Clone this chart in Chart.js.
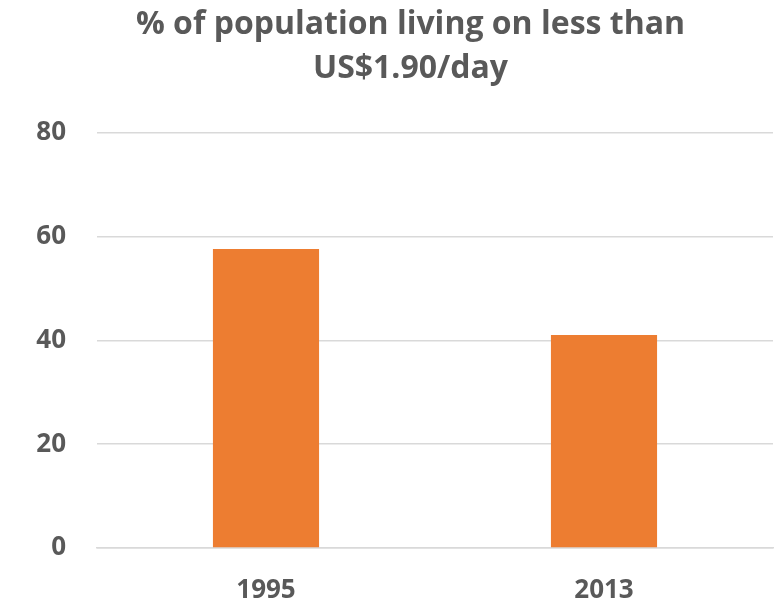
<!DOCTYPE html>
<html>
<head>
<meta charset="utf-8">
<script src="https://cdn.jsdelivr.net/npm/chart.js@4/dist/chart.umd.min.js"></script>
<style>
  html, body { margin: 0; padding: 0; background: #fff; }
  #wrap { width: 781px; height: 603px; }
</style>
</head>
<body>
<div id="wrap"><canvas id="poverty"></canvas></div>
<script>
const years = ["1995", "2013"];
const povertyShare = [57.6, 41.0];
const yTicks = [0, 20, 40, 60, 80];

const textColor = "#595959";
const fontFamily = "'Open Sans', sans-serif";

// the title sits a little right of the canvas centre in the original
const titleShift = {
  id: "titleShift",
  afterLayout(chart) {
    if (chart.titleBlock) {
      chart.titleBlock.left += 9;
      chart.titleBlock.right += 9;
    }
  },
};

const configPoverty = {
  type: "bar",
  data: {
    labels: years,
    datasets: [
      {
        label: "% of population",
        data: povertyShare,
        backgroundColor: "#ED7D31",
        borderWidth: 0,
        categoryPercentage: 1,
        barPercentage: 0.314,
      },
    ],
  },
  options: {
    responsive: true,
    maintainAspectRatio: false,
    animation: false,
    layout: {
      padding: { left: 30, right: 8, top: 0, bottom: 0 },
    },
    plugins: {
      legend: { display: false },
      tooltip: { enabled: false },
      title: {
        display: true,
        text: ["% of population living on less than", "US$1.90/day"],
        color: textColor,
        font: { family: fontFamily, size: 32, weight: "bold", lineHeight: 1.4 },
        padding: { top: 2, bottom: 41 },
      },
    },
    scales: {
      x: {
        afterFit: (axis) => {
          axis.height = 55;
        },
        grid: { display: false, drawTicks: false },
        border: { display: true, color: "#d9d9d9", width: 1.5 },
        ticks: {
          color: textColor,
          font: { family: fontFamily, size: 26, weight: "bold" },
          padding: 27,
        },
      },
      y: {
        min: yTicks[0],
        max: yTicks[yTicks.length - 1],
        afterBuildTicks: (axis) => {
          axis.ticks = yTicks.map((v) => ({ value: v }));
        },
        afterFit: (axis) => {
          axis.width = 67;
        },
        grid: { color: "#d9d9d9", lineWidth: 1.5, drawTicks: false },
        border: { display: false },
        ticks: {
          color: textColor,
          font: { family: fontFamily, size: 26, weight: "bold" },
          padding: 31,
        },
      },
    },
  },
  plugins: [titleShift],
};

const povertyChart = new Chart(document.getElementById("poverty"), configPoverty);
</script>
</body>
</html>
